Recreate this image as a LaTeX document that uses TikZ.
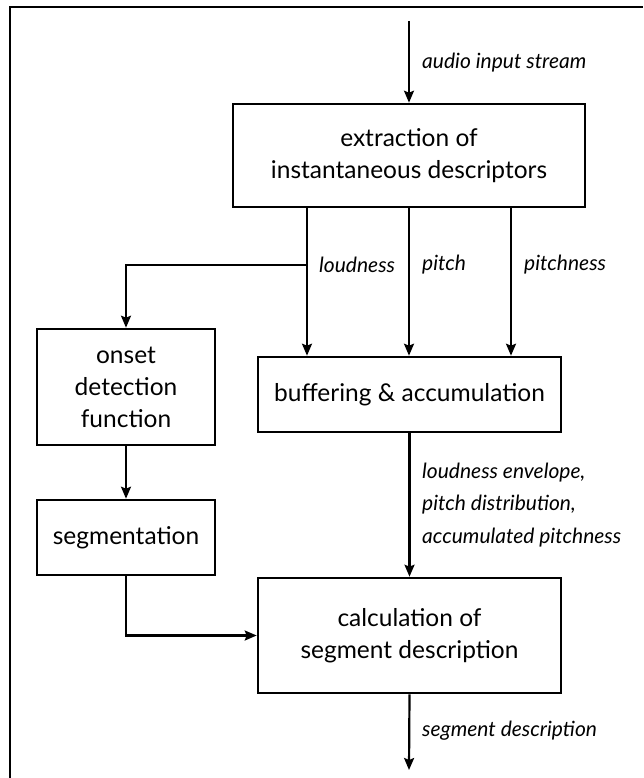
\documentclass[tikz,border=0pt]{standalone}
\usepackage{fontspec}
\setmainfont{Lato}
\usetikzlibrary{arrows.meta}

\begin{document}
\begin{tikzpicture}[x=1pt,y=-1pt,%%
  boxStyle/.style={draw,line width=2.6pt,align=center,inner sep=0pt,%%
    font=\fontsize{24.5}{32}\selectfont},%%
  arrowStyle/.style={-{Stealth[length=12pt,width=10pt,inset=2pt]},line width=2.2pt},%%
  lineStyle/.style={-,line width=2.2pt},%%
  frameStyle/.style={-,line width=2pt},%%
  labelStyle/.style={anchor=west,inner sep=0pt,align=left,%%
    font=\fontsize{21}{32.5}\selectfont\itshape}%%
]
%%
\useasboundingbox (0,0) rectangle (643,778);
%%
%% The frame round the figure (left and top edges only).
\draw[frameStyle] (10,778) -- (10,7) -- (643,7);
%%
%% The processing blocks.
\node[boxStyle,minimum width=352pt,minimum height=103pt] (extraction) at (409,155.5)
  {extraction of\\instantaneous descriptors};
\node[boxStyle,minimum width=303pt,minimum height=75pt] (buffering) at (409.5,394.5)
  {buffering \& accumulation};
\node[boxStyle,minimum width=178pt,minimum height=116pt] (onset) at (126,387)
  {onset\\detection\\function};
\node[boxStyle,minimum width=178pt,minimum height=75pt] (segmentation) at (126,537.5)
  {segmentation};
\node[boxStyle,minimum width=303pt,minimum height=115pt] (calculation) at (409.5,635.5)
  {calculation of\\segment description};
%%
%% Columns of the three descriptors, and the free ends.
\coordinate (colLoudness) at (307,0);
\coordinate (colPitch) at (409,0);
\coordinate (colPitchness) at (511,0);
\coordinate (streamIn) at (409,21);
\coordinate (branchPoint) at (307,265);
\coordinate (descriptionOut) at (409,770);
%%
%% Input stream.
\draw[arrowStyle] (streamIn) -- (extraction.north);
\node[labelStyle] (streamLabel) at (422,63) {audio input stream};
%%
%% Descriptors into the buffer.
\draw[arrowStyle] (extraction.south -| colLoudness) -- (buffering.north -| colLoudness);
\draw[arrowStyle] (extraction.south -| colPitch) -- (buffering.north -| colPitch);
\draw[arrowStyle] (extraction.south -| colPitchness) -- (buffering.north -| colPitchness);
\node[labelStyle] (loudnessLabel) at (319,265) {loudness};
\node[labelStyle] (pitchLabel) at (422,265) {pitch};
\node[labelStyle] (pitchnessLabel) at (524,265) {pitchness};
%%
%% Loudness also feeds the onset detection.
\draw[arrowStyle] (branchPoint) -| (onset.north);
\draw[arrowStyle] (onset.south) -- (segmentation.north);
\draw[arrowStyle] (segmentation.south) |- (calculation.west);
%%
%% Accumulated features into the description.
\draw[arrowStyle] (buffering.south) -- (calculation.north);
\node[labelStyle] (featureLabel) at (422,505)
  {loudness envelope,\\pitch distribution,\\accumulated pitchness};
%%
%% Output.
\draw[arrowStyle] (calculation.south) -- (descriptionOut);
\node[labelStyle] (outputLabel) at (422,731) {segment description};
\end{tikzpicture}
\end{document}
